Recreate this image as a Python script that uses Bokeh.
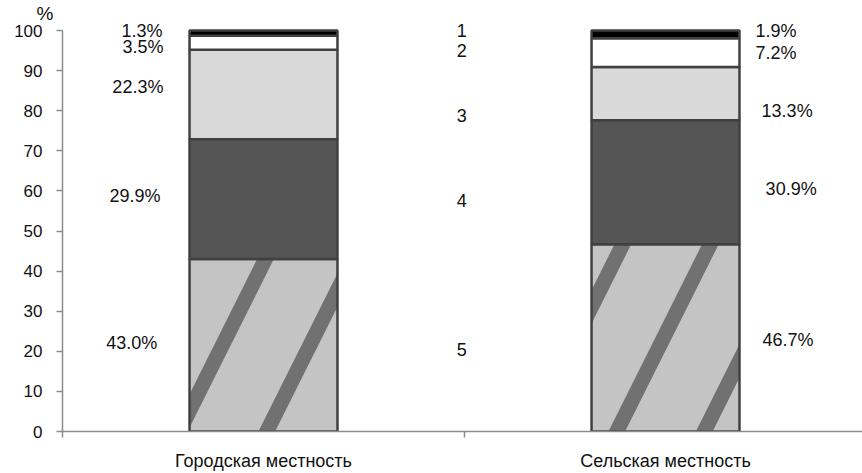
from bokeh.plotting import figure
from bokeh.models import Range1d, FixedTicker, ColumnDataSource
from bokeh.core.properties import value
from bokeh.embed import file_html
from bokeh.resources import INLINE

# ---- data ----
categories = ["Городская местность", "Сельская местность"]
segment_names = ["5", "4", "3", "2", "1"]          # bottom -> top
urban = [43.0, 29.9, 22.3, 3.5, 1.3]
rural = [46.7, 30.9, 13.3, 7.2, 1.9]
y_ticks = [0, 10, 20, 30, 40, 50, 60, 70, 80, 90, 100]
unit_label = "%"

# ---- layout (label placement, data units) ----
cat_x = [0.5, 1.5]
bar_w = 0.368
urban_label_y = [22.1, 58.8, 86.0, 95.8, 100.0]
rural_label_y = [22.9, 60.4, 80.0, 94.3, 100.0]
urban_label_x = [0.236, 0.244, 0.251, 0.251, 0.249]
rural_label_x = [1.741, 1.749, 1.739, 1.724, 1.724]
name_label_y = [20.4, 57.7, 78.9, 95.0, 100.0]
name_label_x = 0.993

fills = ["#c4c4c4", "#555555", "#d9d9d9", "#ffffff", "#000000"]
FONT = "Liberation Sans"

p = figure(width=862, height=473, output_backend="svg", toolbar_location=None,
           x_range=Range1d(0, 1.99), y_range=Range1d(0, 101.75),
           min_border_left=62, min_border_right=0, min_border_top=0,
           min_border_bottom=41)
p.outline_line_color = None
p.grid.grid_line_color = None
p.background_fill_color = "white"
p.border_fill_color = "white"

# unit sign above the y axis (as the title)
p.title.text = unit_label
p.title.align = "left"
p.title.offset = -26
p.title.standoff = 0
p.title.text_font = FONT
p.title.text_font_size = "19px"
p.title.text_font_style = "normal"
p.title.text_color = "#111111"

# stacked bars
for i, name in enumerate(segment_names):
    bottoms = [sum(urban[:i]), sum(rural[:i])]
    tops = [bottoms[0] + urban[i], bottoms[1] + rural[i]]
    src = ColumnDataSource(dict(x=cat_x, bottom=bottoms, top=tops))
    kw = {}
    if i == 0:
        kw = dict(hatch_pattern="/", hatch_color="#555555", hatch_weight=15,
                  hatch_scale=175, hatch_alpha=0.75)
    p.vbar(x="x", width=bar_w, bottom="bottom", top="top", source=src,
           fill_color=fills[i], line_color="#404040", line_width=2.5, **kw)

# value labels
p.text(x=urban_label_x, y=urban_label_y, text=[f"{v:.1f}%" for v in urban],
       text_font=value(FONT), text_font_size="18px", text_align="right",
       text_baseline="middle", text_color="#111111")
p.text(x=rural_label_x, y=rural_label_y, text=[f"{v:.1f}%" for v in rural],
       text_font=value(FONT), text_font_size="18px", text_align="left",
       text_baseline="middle", text_color="#111111")
p.text(x=[name_label_x] * 5, y=name_label_y, text=segment_names,
       text_font=value(FONT), text_font_size="18px", text_align="center",
       text_baseline="middle", text_color="#111111")

# y axis
ya = p.yaxis[0]
ya.ticker = FixedTicker(ticks=y_ticks)
ya.bounds = (0, 100)
ya.axis_line_color = "#8c8c8c"
ya.axis_line_width = 1.5
ya.major_tick_line_color = "#8c8c8c"
ya.major_tick_line_width = 1.5
ya.major_tick_out = 6
ya.major_tick_in = 0
ya.minor_tick_line_color = None
ya.major_label_text_font = FONT
ya.major_label_text_font_size = "17px"
ya.major_label_text_color = "#111111"
ya.major_label_standoff = 14

# x axis
xa = p.xaxis[0]
xa.ticker = FixedTicker(ticks=cat_x, minor_ticks=[0, 1])
xa.major_label_overrides = {cat_x[0]: categories[0], cat_x[1]: categories[1]}
xa.axis_line_color = "#8c8c8c"
xa.axis_line_width = 1.5
xa.major_tick_line_color = None
xa.major_tick_out = 0
xa.major_tick_in = 0
xa.minor_tick_line_color = "#8c8c8c"
xa.minor_tick_line_width = 1.5
xa.minor_tick_out = 6
xa.minor_tick_in = 0
xa.major_label_text_font = FONT
xa.major_label_text_font_size = "18px"
xa.major_label_text_color = "#111111"
xa.major_label_standoff = 13

open("out.html", "w").write(file_html(p, INLINE))
